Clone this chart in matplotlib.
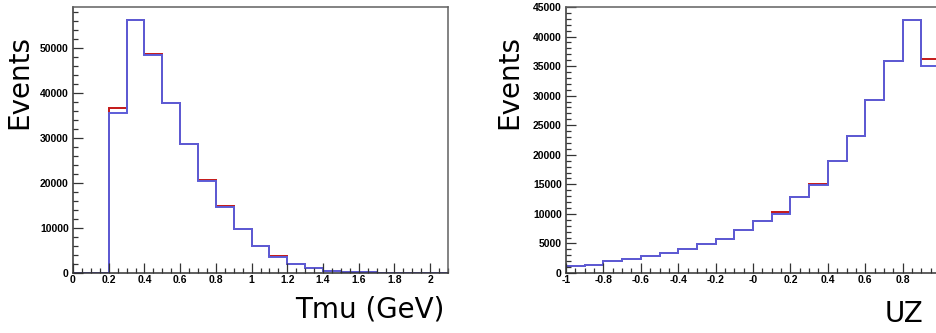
import numpy as np
import matplotlib
matplotlib.use("Agg")
from matplotlib import pyplot as plt
from matplotlib.ticker import MultipleLocator

# Tmu histogram, bins of 0.1 GeV from 0 to 2.1
tmu_red = [0, 0, 36700, 56300, 48600, 37800, 28700, 20600, 14800, 9800, 6100,
           3700, 2100, 1200, 400, 250, 150, 50, 0, 0, 0]
tmu_blue = [0, 0, 35600, 56200, 48500, 37700, 28600, 20500, 14700, 9700, 6000,
            3600, 2100, 1000, 400, 250, 150, 50, 0, 0, 0]
tmu_xticks = [0, 0.2, 0.4, 0.6, 0.8, 1.0, 1.2, 1.4, 1.6, 1.8, 2.0]
tmu_xlabels = ["0", "0.2", "0.4", "0.6", "0.8", "1", "1.2", "1.4", "1.6", "1.8", "2"]
tmu_yticks = [0, 10000, 20000, 30000, 40000, 50000]

# UZ histogram, bins of 0.1 from -1 to 1
uz_red = [1130, 1410, 1970, 2370, 2930, 3380, 4060, 4900, 5750, 7200,
          8730, 10250, 12840, 15000, 18870, 23100, 29300, 35880, 42800, 36170]
uz_blue = [1130, 1410, 1970, 2370, 2930, 3380, 4060, 4900, 5750, 7200,
           8730, 10030, 12840, 14900, 18870, 23100, 29300, 35880, 42800, 35040]
uz_xticks = [-1, -0.8, -0.6, -0.4, -0.2, 0, 0.2, 0.4, 0.6, 0.8]
uz_xlabels = ["-1", "-0.8", "-0.6", "-0.4", "-0.2", "-0", "0.2", "0.4", "0.6", "0.8"]
uz_yticks = list(range(0, 45001, 5000))

RED = "#c41818"
BLUE = "#5c5cd8"
FRAME = "#606060"
tick_font = dict(family="Liberation Sans", weight="bold", size=7.5)


def style_axes(ax, xticks, xlabels, yticks, xminor, yminor):
    ax.set_xticks(xticks)
    ax.set_xticklabels(xlabels, **tick_font)
    ax.set_yticks(yticks)
    ax.set_yticklabels([str(v) for v in yticks], **tick_font)
    ax.xaxis.set_minor_locator(MultipleLocator(xminor))
    ax.yaxis.set_minor_locator(MultipleLocator(yminor))
    ax.tick_params(which="both", direction="in", top=False, right=False,
                   color="#333333", width=0.9)
    ax.tick_params(axis="x", pad=1.5)
    ax.tick_params(axis="y", pad=3)
    ax.tick_params(which="major", length=7)
    ax.tick_params(which="minor", length=3.5)
    for s in ax.spines.values():
        s.set_color(FRAME)
        s.set_linewidth(1.1)
    ax.spines["left"].set_color("#333333")
    ax.spines["bottom"].set_color("#333333")


fig = plt.figure(figsize=(9.37, 3.33), dpi=100)

# left panel
ax1 = fig.add_axes([73 / 937, 60 / 333, 375 / 937, 266 / 333])
edges1 = np.round(np.arange(len(tmu_red) + 1) * 0.1, 2)
ax1.stairs(tmu_red, edges1, color=RED, lw=1.4)
ax1.stairs(tmu_blue, edges1, color=BLUE, lw=1.4)
ax1.set_xlim(0, 2.1)
ax1.set_ylim(0, 59100)
style_axes(ax1, tmu_xticks, tmu_xlabels, tmu_yticks, 0.05, 2000)
ax1.set_xlabel("Tmu (GeV)", fontsize=20, family="DejaVu Sans", loc="right")
ax1.xaxis.set_label_coords(0.99, -0.085)
ax1.set_ylabel("Events", fontsize=20, family="DejaVu Sans", loc="top")
ax1.yaxis.set_label_coords(-0.105, 0.895)

# right panel (cut off at the figure edge like the original)
ax2 = fig.add_axes([566 / 937, 60 / 333, 374 / 937, 266 / 333])
edges2 = np.round(-1 + np.arange(len(uz_red) + 1) * 0.1, 2)
ax2.stairs(uz_red, edges2, color=RED, lw=1.4)
ax2.stairs(uz_blue, edges2, color=BLUE, lw=1.4)
ax2.set_xlim(-1, 1)
ax2.set_ylim(0, 45000)
style_axes(ax2, uz_xticks, uz_xlabels, uz_yticks, 0.05, 1000)
ax2.set_xlabel("UZ", fontsize=20, family="DejaVu Sans", loc="right")
ax2.xaxis.set_label_coords(0.955, -0.1)
ax2.set_ylabel("Events", fontsize=20, family="DejaVu Sans", loc="top")
ax2.yaxis.set_label_coords(-0.113, 0.895)

fig.savefig("out.png", dpi=100)
